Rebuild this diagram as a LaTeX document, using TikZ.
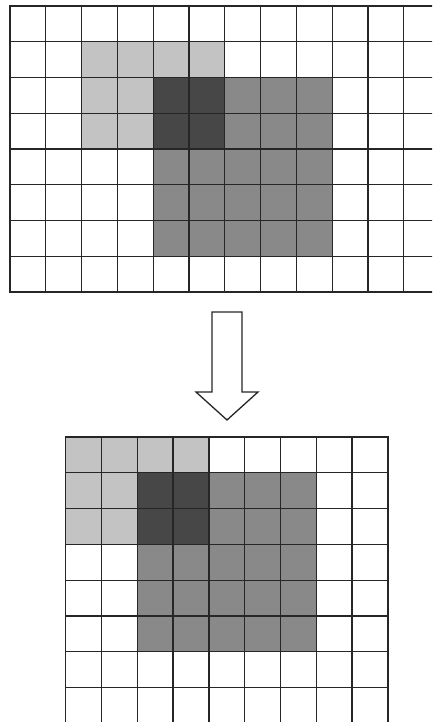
\documentclass[tikz,border=0pt]{standalone}
\definecolor{lightc}{HTML}{C3C3C3}
\definecolor{medc}{HTML}{898989}
\definecolor{darkc}{HTML}{474747}
\tikzset{
  gridline/.style={draw=black!85, line width=1.3pt, line cap=rect},
  arrowline/.style={draw=black!85, line width=1.3pt, line join=miter, fill=white}
}
\begin{document}
\begin{tikzpicture}[x=1pt,y=-1pt]
\useasboundingbox (0,0) rectangle (432,722);
\clip (0,0) rectangle (432,722);
% top grid
\begin{scope}[shift={(10,6)},x=35.8pt,y=-35.75pt]
  \fill[lightc] (2,1) rectangle (6,2);
  \fill[lightc] (2,2) rectangle (4,4);
  \fill[darkc] (4,2) rectangle (6,4);
  \fill[medc] (6,2) rectangle (9,4);
  \fill[medc] (4,4) rectangle (9,7);
  \foreach \i in {0,...,12} \draw[gridline] (\i,0) -- (\i,8);
  \foreach \j in {0,...,8} \draw[gridline] (0,\j) -- (12,\j);
\end{scope}
% arrow
\coordinate (a1) at (212,312);
\coordinate (a2) at (242,312);
\coordinate (a3) at (242,392);
\coordinate (a4) at (258,392);
\coordinate (tip) at (227,420);
\coordinate (a6) at (196,392);
\coordinate (a7) at (212,392);
\draw[arrowline] (a1) -- (a2) -- (a3) -- (a4) -- (tip) -- (a6) -- (a7) -- cycle;
% bottom grid
\begin{scope}[shift={(65.7,437)},x=35.8pt,y=-35.8pt]
  \fill[lightc] (0,0) rectangle (4,1);
  \fill[lightc] (0,1) rectangle (2,3);
  \fill[darkc] (2,1) rectangle (4,3);
  \fill[medc] (4,1) rectangle (7,3);
  \fill[medc] (2,3) rectangle (7,6);
  \foreach \i in {0,...,9} \draw[gridline] (\i,0) -- (\i,8);
  \foreach \j in {0,...,8} \draw[gridline] (0,\j) -- (9,\j);
\end{scope}
\end{tikzpicture}
\end{document}
